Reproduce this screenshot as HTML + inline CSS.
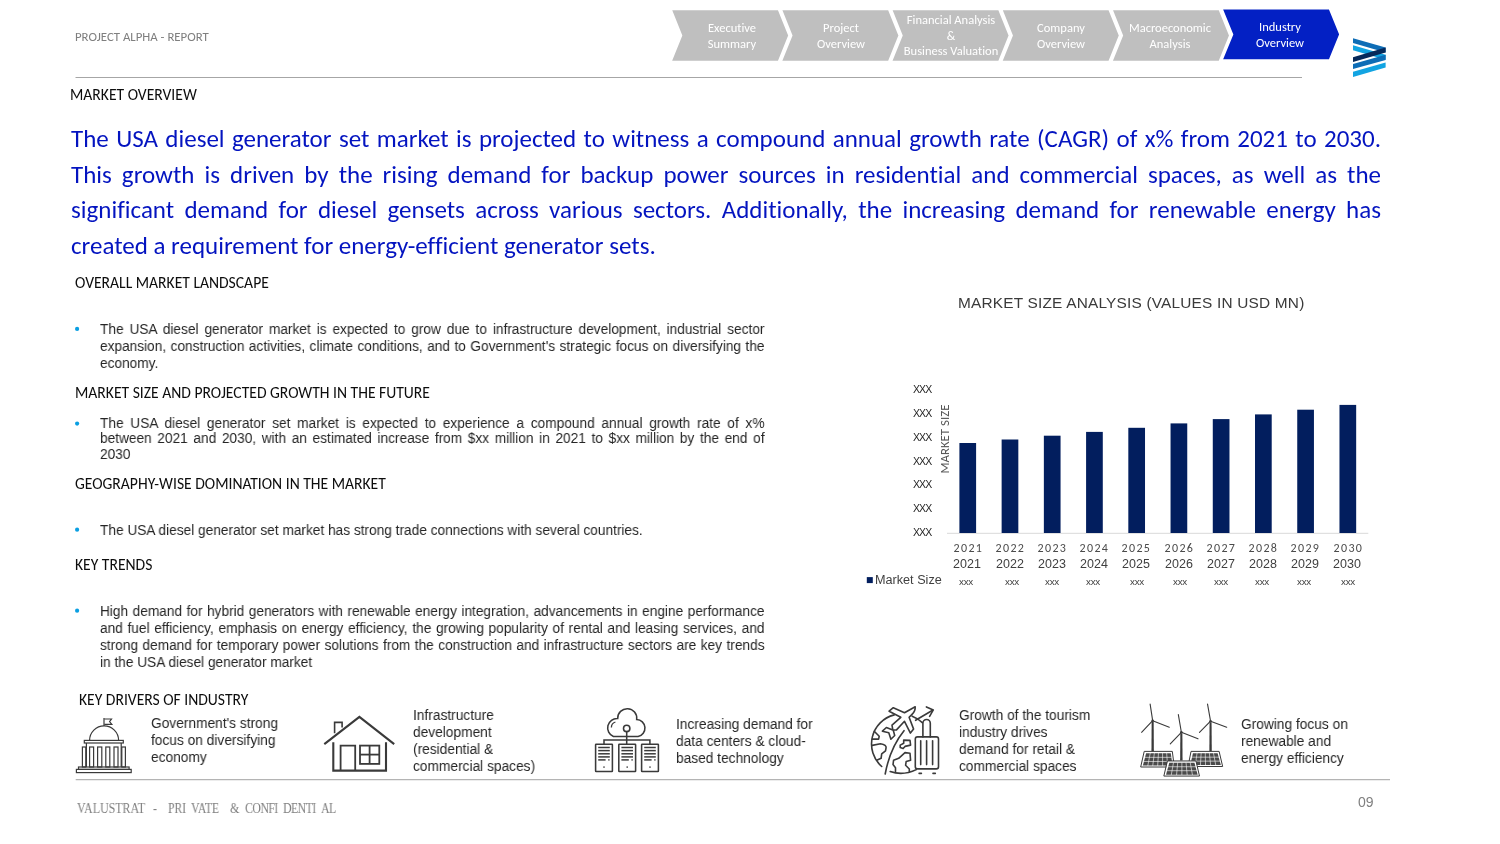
<!DOCTYPE html>
<html><head><meta charset="utf-8"><title>Market Overview</title>
<style>
html,body{margin:0;padding:0;background:#fff;}
body{width:1500px;height:844px;position:relative;overflow:hidden;}
.a{position:absolute;white-space:nowrap;font-variant-ligatures:none;font-kerning:normal;will-change:transform;}
.jj{text-align:justify;text-align-last:justify;white-space:nowrap;}
.jl{text-align:left;white-space:nowrap;}
.g{display:inline-block;width:5px;}
.in{display:inline-block;transform-origin:0 50%;}
.in.cc{transform-origin:50% 50%;}
svg.bg{position:absolute;left:0;top:0;}
</style></head><body>
<svg class="bg" width="1500" height="844" viewBox="0 0 1500 844">
<polygon points="671.0,9.4 778.5,9.4 789.0,35.5 778.5,61.5 671.0,61.5 681.5,35.5" fill="#BFBFBF" stroke="#ffffff" stroke-width="1.6" stroke-linejoin="miter"/>
<polygon points="781.2,9.4 888.7,9.4 899.2,35.5 888.7,61.5 781.2,61.5 791.7,35.5" fill="#BFBFBF" stroke="#ffffff" stroke-width="1.6" stroke-linejoin="miter"/>
<polygon points="891.4,9.4 998.9,9.4 1009.4,35.5 998.9,61.5 891.4,61.5 901.9,35.5" fill="#BFBFBF" stroke="#ffffff" stroke-width="1.6" stroke-linejoin="miter"/>
<polygon points="1001.6,9.4 1109.1,9.4 1119.6,35.5 1109.1,61.5 1001.6,61.5 1012.1,35.5" fill="#BFBFBF" stroke="#ffffff" stroke-width="1.6" stroke-linejoin="miter"/>
<polygon points="1111.8,9.4 1219.3,9.4 1229.8,35.5 1219.3,61.5 1111.8,61.5 1122.3,35.5" fill="#BFBFBF" stroke="#ffffff" stroke-width="1.6" stroke-linejoin="miter"/>
<polygon points="1222.0,8.7 1329.5,8.7 1340.0,34.4 1329.5,60.0 1222.0,60.0 1232.5,34.4" fill="#0320C4" stroke="#ffffff" stroke-width="1.6" stroke-linejoin="miter"/>
<polygon points="1353.03,45.31 1385.60,54.76 1385.60,59.64 1353.03,50.20" fill="#12A4E2"/>
<polygon points="1353.03,38.14 1385.60,47.59 1385.60,52.48 1353.03,43.03" fill="#0E6DB6"/>
<polygon points="1353.03,71.69 1385.60,62.57 1385.60,67.46 1353.03,76.91" fill="#12A4E2"/>
<polygon points="1353.03,63.88 1385.60,54.76 1385.60,59.97 1353.03,69.09" fill="#0E6DB6"/>
<polygon points="1353.03,57.36 1385.60,47.59 1385.60,52.48 1353.03,61.92" fill="#06295A"/>
<line x1="75.5" y1="77.5" x2="1302" y2="77.5" stroke="#a6a6a6" stroke-width="1"/>
<circle cx="77.1" cy="328.9" r="2.1" fill="#0A9FE2"/>
<circle cx="77.1" cy="423.6" r="2.1" fill="#0A9FE2"/>
<circle cx="77.1" cy="529.7" r="2.1" fill="#0A9FE2"/>
<circle cx="77.1" cy="610.7" r="2.1" fill="#0A9FE2"/>
<line x1="947" y1="533.3" x2="1368.3" y2="533.3" stroke="#d9d9d9" stroke-width="1"/>
<rect x="959.40" y="443.0" width="16.7" height="90.0" fill="#021E5E"/>
<rect x="1001.63" y="439.5" width="16.7" height="93.5" fill="#021E5E"/>
<rect x="1043.86" y="435.7" width="16.7" height="97.3" fill="#021E5E"/>
<rect x="1086.09" y="431.9" width="16.7" height="101.1" fill="#021E5E"/>
<rect x="1128.32" y="427.8" width="16.7" height="105.2" fill="#021E5E"/>
<rect x="1170.55" y="423.4" width="16.7" height="109.6" fill="#021E5E"/>
<rect x="1212.78" y="419.1" width="16.7" height="113.9" fill="#021E5E"/>
<rect x="1255.01" y="414.4" width="16.7" height="118.6" fill="#021E5E"/>
<rect x="1297.24" y="409.7" width="16.7" height="123.3" fill="#021E5E"/>
<rect x="1339.47" y="404.9" width="16.7" height="128.1" fill="#021E5E"/>
<rect x="866.8" y="577.1" width="6" height="6" fill="#021E5E"/>
<g fill="none" stroke="#3a3a3a" stroke-width="1.2">
<line x1="104" y1="718" x2="104" y2="726"/>
<path d="M104.3,719 L111.5,719 L109.6,721.6 L111.8,724.3 L104.3,724.3"/>
<path d="M89.6,740.3 A14.5,14.5 0 0 1 118.6,740.3"/>
<rect x="84.3" y="740.4" width="39" height="2.6"/>
<line x1="86.4" y1="743" x2="86.4" y2="767"/><line x1="121.2" y1="743" x2="121.2" y2="767"/>
<rect x="82.4" y="747" width="3.4" height="20"/>
<rect x="89.6" y="747" width="4.0" height="20"/>
<rect x="97.6" y="747" width="4.2" height="20"/>
<rect x="105.8" y="747" width="4.0" height="20"/>
<rect x="114.0" y="747" width="4.0" height="20"/>
<rect x="121.8" y="747" width="3.6" height="20"/>
<rect x="78.5" y="767" width="50.6" height="2.4"/>
<rect x="76.4" y="769.4" width="54.8" height="3.2"/>
</g>
<g fill="none" stroke="#3a3a3a" stroke-width="2.1" stroke-linejoin="miter">
<polyline points="324.3,744.1 359.4,716.8 394.2,744.1"/>
<polyline points="334.6,733.2 334.6,722.4 342.1,722.4 342.1,727.6" stroke-width="1.6"/>
<polyline points="333.3,742.3 333.3,770.6 386.0,770.6 386.0,742.3"/>
<polyline points="340.6,770.6 340.6,745.6 355.2,745.6 355.2,770.6" stroke-width="1.8"/>
<rect x="360.0" y="745.6" width="19.3" height="18.3" stroke-width="1.8"/>
<line x1="369.6" y1="745.6" x2="369.6" y2="763.9" stroke-width="1.8"/><line x1="360" y1="754.6" x2="379.3" y2="754.6" stroke-width="1.8"/>
</g>
<g fill="none" stroke="#3a3a3a" stroke-width="1.55">
<path d="M613.4,736.5 L638.1,736.5 A8.65,8.65 0 0 0 636.7,719.4 A9.54,9.54 0 1 0 617.7,718.5 A9.38,9.38 0 0 0 613.4,736.5 Z"/>
<path d="M611.4,727.6 A5.8,5.8 0 0 1 615.4,722.0" stroke-width="1.3"/>
<circle cx="626.7" cy="728.4" r="3.2"/>
<line x1="626.7" y1="731.6" x2="626.7" y2="744"/>
<polyline points="604.0,744 604.0,739.9 649.9,739.9 649.9,744"/>
<rect x="595.6" y="744.2" width="16.8" height="27.3" rx="0.5"/>
<line x1="598.2" y1="747.5" x2="609.8" y2="747.5" stroke-width="1.5"/>
<line x1="598.2" y1="750.6" x2="609.8" y2="750.6" stroke-width="1.5"/>
<line x1="598.2" y1="753.8" x2="609.8" y2="753.8" stroke-width="1.5"/>
<line x1="598.2" y1="756.9" x2="609.8" y2="756.9" stroke-width="1.5"/>
<line x1="598.2" y1="759.9" x2="605.6" y2="759.9" stroke-width="1.5"/>
<rect x="608.2" y="759.2" width="1.4" height="1.4" fill="#3a3a3a" stroke="none"/>
<rect x="603.3" y="766.4" width="1.4" height="1.4" fill="#3a3a3a" stroke="none"/>
<rect x="618.8" y="744.2" width="16.8" height="27.3" rx="0.5"/>
<line x1="621.4" y1="747.5" x2="633.0" y2="747.5" stroke-width="1.5"/>
<line x1="621.4" y1="750.6" x2="633.0" y2="750.6" stroke-width="1.5"/>
<line x1="621.4" y1="753.8" x2="633.0" y2="753.8" stroke-width="1.5"/>
<line x1="621.4" y1="756.9" x2="633.0" y2="756.9" stroke-width="1.5"/>
<line x1="621.4" y1="759.9" x2="628.8" y2="759.9" stroke-width="1.5"/>
<rect x="631.4" y="759.2" width="1.4" height="1.4" fill="#3a3a3a" stroke="none"/>
<rect x="626.5" y="766.4" width="1.4" height="1.4" fill="#3a3a3a" stroke="none"/>
<rect x="641.6" y="744.2" width="16.8" height="27.3" rx="0.5"/>
<line x1="644.2" y1="747.5" x2="655.8" y2="747.5" stroke-width="1.5"/>
<line x1="644.2" y1="750.6" x2="655.8" y2="750.6" stroke-width="1.5"/>
<line x1="644.2" y1="753.8" x2="655.8" y2="753.8" stroke-width="1.5"/>
<line x1="644.2" y1="756.9" x2="655.8" y2="756.9" stroke-width="1.5"/>
<line x1="644.2" y1="759.9" x2="651.6" y2="759.9" stroke-width="1.5"/>
<rect x="654.2" y="759.2" width="1.4" height="1.4" fill="#3a3a3a" stroke="none"/>
<rect x="649.3" y="766.4" width="1.4" height="1.4" fill="#3a3a3a" stroke="none"/>
</g>
<g fill="none" stroke="#3a3a3a" stroke-width="1.6" stroke-linejoin="round" stroke-linecap="round">
<path d="M894.2,714.9 A30,30 0 0 0 881.7,766.5"/>
<path d="M890.2,771.5 Q903,776 916.3,769.6"/>
<path d="M912.2,716.2 Q918,718.5 922.3,722.6"/>
<path d="M904.0,730.7 Q890,748 885.2,774.0"/>
<path d="M874.2,731.3 L879.2,736.3 L878.6,739.1 L872.3,739.1"/>
<path d="M872.3,745.4 L880.4,743.8 Q886.5,745 886.1,747.6 L885.5,750.8 L881.7,753.9 L881.1,758.3 L876.7,760.2"/>
<path d="M903.7,740.1 L910.0,740.4 L910.6,745.1 L905.0,746.4 L903.1,748.6 L900.2,747.6 L900.2,745.1 L903.7,743.2 Z"/>
<path d="M895.5,771.5 L895.5,767.7 L893.0,764.6 L893.6,760.2 L898.7,758.3 L905.0,752.6 L910.0,753.3 L910.6,760.2 L906.2,761.4 L905.6,765.2 L909.3,769.0 L909.3,771.5"/>
<path d="M915.2,706.7 L904.5,712.8 L893.3,707.7 L889.1,711.2 L900.8,717.3 L892.0,725.1 L892.8,729.9 L886.4,727.5 L882.4,731.2 L888.8,732.8 L890.9,739.2 L894.7,735.5 L893.2,730.0 L896.5,729.9 L904.5,721.3 L910.4,733.1 L913.6,729.1 L909.1,717.3 L912.0,714.4 Q915.5,711 915.2,706.7 Z"/>
<path d="M915.6,720.3 L932.6,710.2"/>
<path d="M926.4,706.9 L933.3,709.9 L929.6,716.3"/>
<rect x="915.3" y="736.9" width="23.2" height="32.0" rx="2.2"/>
<path d="M922.9,736.9 L922.9,723.2 A3.7,3.7 0 0 1 930.3,723.2 L930.3,736.9"/>
<line x1="920.7" y1="740.8" x2="920.7" y2="764.6"/>
<line x1="926.6" y1="740.8" x2="926.6" y2="764.6"/>
<line x1="932.6" y1="740.8" x2="932.6" y2="764.6"/>
<line x1="919.1" y1="773.4" x2="921.4" y2="773.4"/><line x1="933.0" y1="773.4" x2="935.3" y2="773.4"/>
</g>
<g stroke="#3a3a3a" fill="none" stroke-linecap="round">
<polygon points="1151.65,721.69 1153.67,721.69 1153.87,751.39 1151.45,751.39" fill="#3a3a3a" stroke="none"/>
<polyline points="1152.66,720.68 1150.14,704.06" stroke-width="1.1"/>
<polyline points="1152.66,720.68 1169.27,727.23" stroke-width="1.1"/>
<polyline points="1152.66,720.68 1141.58,732.26" stroke-width="1.1"/>
<circle cx="1152.66" cy="720.68" r="1.3" fill="#3a3a3a" stroke="none"/>
<polygon points="1180.35,733.27 1182.37,733.27 1182.57,760.46 1180.15,760.46" fill="#3a3a3a" stroke="none"/>
<polyline points="1181.36,732.26 1178.34,714.64" stroke-width="1.1"/>
<polyline points="1181.36,732.26 1197.98,738.81" stroke-width="1.1"/>
<polyline points="1181.36,732.26 1170.28,743.84" stroke-width="1.1"/>
<circle cx="1181.36" cy="732.26" r="1.3" fill="#3a3a3a" stroke="none"/>
<polygon points="1209.56,722.19 1211.57,722.19 1211.77,751.39 1209.36,751.39" fill="#3a3a3a" stroke="none"/>
<polyline points="1210.56,721.18 1207.54,704.06" stroke-width="1.1"/>
<polyline points="1210.56,721.18 1226.68,727.23" stroke-width="1.1"/>
<polyline points="1210.56,721.18 1199.49,732.46" stroke-width="1.1"/>
<circle cx="1210.56" cy="721.18" r="1.3" fill="#3a3a3a" stroke="none"/>
<polygon points="1144.60,751.39 1172.30,751.39 1174.31,767.00 1141.08,767.00" fill="#ffffff" stroke-width="1.0"/>
<polygon points="1146.11,753.21 1170.79,753.21 1172.50,765.59 1142.89,765.59" fill="#4a4a4a" stroke="none"/>
<line x1="1145.04" y1="757.34" x2="1171.36" y2="757.34" stroke="#ffffff" stroke-width="0.6"/>
<line x1="1143.96" y1="761.47" x2="1171.93" y2="761.47" stroke="#ffffff" stroke-width="0.6"/>
<line x1="1150.22" y1="753.21" x2="1147.82" y2="765.59" stroke="#ffffff" stroke-width="0.6"/>
<line x1="1154.34" y1="753.21" x2="1152.76" y2="765.59" stroke="#ffffff" stroke-width="0.6"/>
<line x1="1158.45" y1="753.21" x2="1157.69" y2="765.59" stroke="#ffffff" stroke-width="0.6"/>
<line x1="1162.56" y1="753.21" x2="1162.63" y2="765.59" stroke="#ffffff" stroke-width="0.6"/>
<line x1="1166.67" y1="753.21" x2="1167.56" y2="765.59" stroke="#ffffff" stroke-width="0.6"/>
<polygon points="1191.43,751.39 1219.12,751.39 1222.65,766.50 1188.41,766.50" fill="#ffffff" stroke-width="1.0"/>
<polygon points="1192.94,753.21 1217.61,753.21 1220.84,765.09 1190.22,765.09" fill="#4a4a4a" stroke="none"/>
<line x1="1192.03" y1="757.17" x2="1218.69" y2="757.17" stroke="#ffffff" stroke-width="0.6"/>
<line x1="1191.13" y1="761.13" x2="1219.76" y2="761.13" stroke="#ffffff" stroke-width="0.6"/>
<line x1="1197.05" y1="753.21" x2="1195.32" y2="765.09" stroke="#ffffff" stroke-width="0.6"/>
<line x1="1201.16" y1="753.21" x2="1200.43" y2="765.09" stroke="#ffffff" stroke-width="0.6"/>
<line x1="1205.28" y1="753.21" x2="1205.53" y2="765.09" stroke="#ffffff" stroke-width="0.6"/>
<line x1="1209.39" y1="753.21" x2="1210.63" y2="765.09" stroke="#ffffff" stroke-width="0.6"/>
<line x1="1213.50" y1="753.21" x2="1215.73" y2="765.09" stroke="#ffffff" stroke-width="0.6"/>
<polygon points="1167.76,760.96 1195.96,760.96 1199.49,776.07 1164.24,776.07" fill="#ffffff" stroke-width="1.0"/>
<polygon points="1169.27,762.77 1194.45,762.77 1197.67,774.66 1166.05,774.66" fill="#4a4a4a" stroke="none"/>
<line x1="1168.20" y1="766.74" x2="1195.53" y2="766.74" stroke="#ffffff" stroke-width="0.6"/>
<line x1="1167.13" y1="770.70" x2="1196.60" y2="770.70" stroke="#ffffff" stroke-width="0.6"/>
<line x1="1173.47" y1="762.77" x2="1171.32" y2="774.66" stroke="#ffffff" stroke-width="0.6"/>
<line x1="1177.67" y1="762.77" x2="1176.59" y2="774.66" stroke="#ffffff" stroke-width="0.6"/>
<line x1="1181.86" y1="762.77" x2="1181.86" y2="774.66" stroke="#ffffff" stroke-width="0.6"/>
<line x1="1186.06" y1="762.77" x2="1187.13" y2="774.66" stroke="#ffffff" stroke-width="0.6"/>
<line x1="1190.26" y1="762.77" x2="1192.40" y2="774.66" stroke="#ffffff" stroke-width="0.6"/>
</g>
<line x1="75.7" y1="779.6" x2="1390" y2="779.6" stroke="#b4b4b4" stroke-width="1.4"/>
</svg>
<div class="a  cal" style="left:75.00px;top:28.95px;font-family:Carlito, Calibri, 'Liberation Sans', sans-serif;font-size:12.8px;line-height:15.36px;color:#7f7f7f;"><span class="in">PROJECT ALPHA - REPORT</span></div>
<div class="a cal" style="left:631.50px;top:20.03px;width:200px;text-align:center;font-family:Carlito, Calibri, 'Liberation Sans', sans-serif;font-size:12.5px;line-height:15.0px;color:#ffffff;"><span class="in cc">Executive</span></div>
<div class="a cal" style="left:631.50px;top:35.63px;width:200px;text-align:center;font-family:Carlito, Calibri, 'Liberation Sans', sans-serif;font-size:12.5px;line-height:15.0px;color:#ffffff;"><span class="in cc">Summary</span></div>
<div class="a cal" style="left:740.70px;top:20.03px;width:200px;text-align:center;font-family:Carlito, Calibri, 'Liberation Sans', sans-serif;font-size:12.5px;line-height:15.0px;color:#ffffff;"><span class="in cc">Project</span></div>
<div class="a cal" style="left:740.70px;top:35.63px;width:200px;text-align:center;font-family:Carlito, Calibri, 'Liberation Sans', sans-serif;font-size:12.5px;line-height:15.0px;color:#ffffff;"><span class="in cc">Overview</span></div>
<div class="a cal" style="left:851.10px;top:12.43px;width:200px;text-align:center;font-family:Carlito, Calibri, 'Liberation Sans', sans-serif;font-size:12.5px;line-height:15.0px;color:#ffffff;"><span class="in cc">Financial Analysis</span></div>
<div class="a cal" style="left:851.10px;top:27.63px;width:200px;text-align:center;font-family:Carlito, Calibri, 'Liberation Sans', sans-serif;font-size:12.5px;line-height:15.0px;color:#ffffff;"><span class="in cc">&amp;</span></div>
<div class="a cal" style="left:851.10px;top:42.83px;width:200px;text-align:center;font-family:Carlito, Calibri, 'Liberation Sans', sans-serif;font-size:12.5px;line-height:15.0px;color:#ffffff;"><span class="in cc">Business Valuation</span></div>
<div class="a cal" style="left:960.80px;top:20.03px;width:200px;text-align:center;font-family:Carlito, Calibri, 'Liberation Sans', sans-serif;font-size:12.5px;line-height:15.0px;color:#ffffff;"><span class="in cc">Company</span></div>
<div class="a cal" style="left:960.80px;top:35.63px;width:200px;text-align:center;font-family:Carlito, Calibri, 'Liberation Sans', sans-serif;font-size:12.5px;line-height:15.0px;color:#ffffff;"><span class="in cc">Overview</span></div>
<div class="a cal" style="left:1070.30px;top:20.03px;width:200px;text-align:center;font-family:Carlito, Calibri, 'Liberation Sans', sans-serif;font-size:12.5px;line-height:15.0px;color:#ffffff;"><span class="in cc">Macroeconomic</span></div>
<div class="a cal" style="left:1070.30px;top:35.63px;width:200px;text-align:center;font-family:Carlito, Calibri, 'Liberation Sans', sans-serif;font-size:12.5px;line-height:15.0px;color:#ffffff;"><span class="in cc">Analysis</span></div>
<div class="a cal" style="left:1180.30px;top:19.23px;width:200px;text-align:center;font-family:Carlito, Calibri, 'Liberation Sans', sans-serif;font-size:12.5px;line-height:15.0px;color:#ffffff;"><span class="in cc">Industry</span></div>
<div class="a cal" style="left:1180.30px;top:34.73px;width:200px;text-align:center;font-family:Carlito, Calibri, 'Liberation Sans', sans-serif;font-size:12.5px;line-height:15.0px;color:#ffffff;"><span class="in cc">Overview</span></div>
<div class="a  cal" style="left:70.30px;top:86.31px;font-family:Carlito, Calibri, 'Liberation Sans', sans-serif;font-size:15.6px;line-height:18.72px;color:#0d0d0d;"><span class="in">MARKET OVERVIEW</span></div>
<div class="a cal" style="left:70.50px;top:120.91px;width:1310.0px;font-family:Carlito, Calibri, 'Liberation Sans', sans-serif;font-size:25px;line-height:35.7px;color:#0414C0;transform-origin:0 0;transform:scaleX(1.0);"><div class="jj ln">The USA diesel generator set market is projected to witness a compound annual growth rate (CAGR) of x% from 2021 to 2030.</div><div class="jj ln">This growth is driven by the rising demand for backup power sources in residential and commercial spaces, as well as the</div><div class="jj ln">significant demand for diesel gensets across various sectors. Additionally, the increasing demand for renewable energy has</div><div class="jl ln">created a requirement for energy-efficient generator sets.</div></div>
<div class="a  cal" style="left:75.00px;top:274.11px;font-family:Carlito, Calibri, 'Liberation Sans', sans-serif;font-size:15.6px;line-height:18.72px;color:#0d0d0d;"><span class="in">OVERALL MARKET LANDSCAPE</span></div>
<div class="a  cal" style="left:75.20px;top:384.21px;font-family:Carlito, Calibri, 'Liberation Sans', sans-serif;font-size:15.6px;line-height:18.72px;color:#0d0d0d;"><span class="in">MARKET SIZE AND PROJECTED GROWTH IN THE FUTURE</span></div>
<div class="a  cal" style="left:75.20px;top:475.21px;font-family:Carlito, Calibri, 'Liberation Sans', sans-serif;font-size:15.6px;line-height:18.72px;color:#0d0d0d;"><span class="in">GEOGRAPHY-WISE DOMINATION IN THE MARKET</span></div>
<div class="a  cal" style="left:75.20px;top:555.71px;font-family:Carlito, Calibri, 'Liberation Sans', sans-serif;font-size:15.6px;line-height:18.72px;color:#0d0d0d;"><span class="in">KEY TRENDS</span></div>
<div class="a  cal" style="left:79.10px;top:690.71px;font-family:Carlito, Calibri, 'Liberation Sans', sans-serif;font-size:15.6px;line-height:18.72px;color:#0d0d0d;"><span class="in">KEY DRIVERS OF INDUSTRY</span></div>
<div class="a" style="left:99.60px;top:321.03px;width:713.7486573576799px;font-family:'Liberation Sans', Arial, sans-serif;font-size:14.7px;line-height:16.95px;color:#262626;transform-origin:0 0;transform:scaleX(0.931);"><div class="jj">The USA diesel generator market is expected to grow due to infrastructure development, industrial sector</div><div class="jj">expansion, construction activities, climate conditions, and to Government&#39;s strategic focus on diversifying the</div><div class="jl">economy.</div></div>
<div class="a" style="left:99.60px;top:416.13px;width:713.7486573576799px;font-family:'Liberation Sans', Arial, sans-serif;font-size:14.7px;line-height:15.35px;color:#262626;transform-origin:0 0;transform:scaleX(0.931);"><div class="jj">The USA diesel generator set market is expected to experience a compound annual growth rate of x%</div><div class="jj">between 2021 and 2030, with an estimated increase from $xx million in 2021 to $xx million by the end of</div><div class="jl">2030</div></div>
<div class="a" style="left:99.60px;top:521.80px;width:713.7486573576799px;font-family:'Liberation Sans', Arial, sans-serif;font-size:14.7px;line-height:16.8px;color:#262626;transform-origin:0 0;transform:scaleX(0.931);"><div class="jl">The USA diesel generator set market has strong trade connections with several countries.</div></div>
<div class="a" style="left:99.60px;top:602.72px;width:713.7486573576799px;font-family:'Liberation Sans', Arial, sans-serif;font-size:14.7px;line-height:16.97px;color:#262626;transform-origin:0 0;transform:scaleX(0.931);"><div class="jj">High demand for hybrid generators with renewable energy integration, advancements in engine performance</div><div class="jj">and fuel efficiency, emphasis on energy efficiency, the growing popularity of rental and leasing services, and</div><div class="jj">strong demand for temporary power solutions from the construction and infrastructure sectors are key trends</div><div class="jl">in the USA diesel generator market</div></div>
<div class="a " style="left:958.00px;top:294.12px;font-family:'Liberation Sans', Arial, sans-serif;font-size:15.4px;line-height:18.48px;color:#3a3a3a;letter-spacing:0.2px;">MARKET SIZE ANALYSIS (VALUES IN USD MN)</div>
<div class="a " style="left:912.80px;top:382.81px;font-family:'Liberation Sans', Arial, sans-serif;font-size:10.5px;line-height:12.6px;color:#262626;letter-spacing:-0.9px;">XXX</div>
<div class="a " style="left:912.80px;top:406.71px;font-family:'Liberation Sans', Arial, sans-serif;font-size:10.5px;line-height:12.6px;color:#262626;letter-spacing:-0.9px;">XXX</div>
<div class="a " style="left:912.80px;top:430.61px;font-family:'Liberation Sans', Arial, sans-serif;font-size:10.5px;line-height:12.6px;color:#262626;letter-spacing:-0.9px;">XXX</div>
<div class="a " style="left:912.80px;top:454.51px;font-family:'Liberation Sans', Arial, sans-serif;font-size:10.5px;line-height:12.6px;color:#262626;letter-spacing:-0.9px;">XXX</div>
<div class="a " style="left:912.80px;top:478.41px;font-family:'Liberation Sans', Arial, sans-serif;font-size:10.5px;line-height:12.6px;color:#262626;letter-spacing:-0.9px;">XXX</div>
<div class="a " style="left:912.80px;top:502.31px;font-family:'Liberation Sans', Arial, sans-serif;font-size:10.5px;line-height:12.6px;color:#262626;letter-spacing:-0.9px;">XXX</div>
<div class="a " style="left:912.80px;top:526.21px;font-family:'Liberation Sans', Arial, sans-serif;font-size:10.5px;line-height:12.6px;color:#262626;letter-spacing:-0.9px;">XXX</div>
<div class="a cal" style="left:894.9px;top:431.3px;width:100px;height:16px;text-align:center;font-family:Carlito, Calibri, 'Liberation Sans', sans-serif;font-size:12.85px;line-height:16px;color:#595959;transform:rotate(-90deg);"><span class="in cc">MARKET SIZE</span></div>
<div class="a cal" style="left:866.55px;top:540.60px;width:200px;text-align:center;font-family:Carlito, Calibri, 'Liberation Sans', sans-serif;font-size:12px;line-height:14.399999999999999px;color:#4a4a4a;letter-spacing:1.4px;text-indent:1.4px;"><span class="in cc">2021</span></div>
<div class="a" style="left:867.35px;top:556.67px;width:200px;text-align:center;font-family:'Liberation Sans', Arial, sans-serif;font-size:12.5px;line-height:15.0px;color:#404040;">2021</div>
<div class="a" style="left:865.60px;top:575.72px;width:200px;text-align:center;font-family:'Liberation Sans', Arial, sans-serif;font-size:9.8px;line-height:11.76px;color:#404040;letter-spacing:-0.3px;">xxx</div>
<div class="a cal" style="left:908.78px;top:540.60px;width:200px;text-align:center;font-family:Carlito, Calibri, 'Liberation Sans', sans-serif;font-size:12px;line-height:14.399999999999999px;color:#4a4a4a;letter-spacing:1.4px;text-indent:1.4px;"><span class="in cc">2022</span></div>
<div class="a" style="left:909.58px;top:556.67px;width:200px;text-align:center;font-family:'Liberation Sans', Arial, sans-serif;font-size:12.5px;line-height:15.0px;color:#404040;">2022</div>
<div class="a" style="left:912.00px;top:575.72px;width:200px;text-align:center;font-family:'Liberation Sans', Arial, sans-serif;font-size:9.8px;line-height:11.76px;color:#404040;letter-spacing:-0.3px;">xxx</div>
<div class="a cal" style="left:951.01px;top:540.60px;width:200px;text-align:center;font-family:Carlito, Calibri, 'Liberation Sans', sans-serif;font-size:12px;line-height:14.399999999999999px;color:#4a4a4a;letter-spacing:1.4px;text-indent:1.4px;"><span class="in cc">2023</span></div>
<div class="a" style="left:951.81px;top:556.67px;width:200px;text-align:center;font-family:'Liberation Sans', Arial, sans-serif;font-size:12.5px;line-height:15.0px;color:#404040;">2023</div>
<div class="a" style="left:952.40px;top:575.72px;width:200px;text-align:center;font-family:'Liberation Sans', Arial, sans-serif;font-size:9.8px;line-height:11.76px;color:#404040;letter-spacing:-0.3px;">xxx</div>
<div class="a cal" style="left:993.24px;top:540.60px;width:200px;text-align:center;font-family:Carlito, Calibri, 'Liberation Sans', sans-serif;font-size:12px;line-height:14.399999999999999px;color:#4a4a4a;letter-spacing:1.4px;text-indent:1.4px;"><span class="in cc">2024</span></div>
<div class="a" style="left:994.04px;top:556.67px;width:200px;text-align:center;font-family:'Liberation Sans', Arial, sans-serif;font-size:12.5px;line-height:15.0px;color:#404040;">2024</div>
<div class="a" style="left:993.00px;top:575.72px;width:200px;text-align:center;font-family:'Liberation Sans', Arial, sans-serif;font-size:9.8px;line-height:11.76px;color:#404040;letter-spacing:-0.3px;">xxx</div>
<div class="a cal" style="left:1035.47px;top:540.60px;width:200px;text-align:center;font-family:Carlito, Calibri, 'Liberation Sans', sans-serif;font-size:12px;line-height:14.399999999999999px;color:#4a4a4a;letter-spacing:1.4px;text-indent:1.4px;"><span class="in cc">2025</span></div>
<div class="a" style="left:1036.27px;top:556.67px;width:200px;text-align:center;font-family:'Liberation Sans', Arial, sans-serif;font-size:12.5px;line-height:15.0px;color:#404040;">2025</div>
<div class="a" style="left:1037.30px;top:575.72px;width:200px;text-align:center;font-family:'Liberation Sans', Arial, sans-serif;font-size:9.8px;line-height:11.76px;color:#404040;letter-spacing:-0.3px;">xxx</div>
<div class="a cal" style="left:1077.70px;top:540.60px;width:200px;text-align:center;font-family:Carlito, Calibri, 'Liberation Sans', sans-serif;font-size:12px;line-height:14.399999999999999px;color:#4a4a4a;letter-spacing:1.4px;text-indent:1.4px;"><span class="in cc">2026</span></div>
<div class="a" style="left:1078.50px;top:556.67px;width:200px;text-align:center;font-family:'Liberation Sans', Arial, sans-serif;font-size:12.5px;line-height:15.0px;color:#404040;">2026</div>
<div class="a" style="left:1080.10px;top:575.72px;width:200px;text-align:center;font-family:'Liberation Sans', Arial, sans-serif;font-size:9.8px;line-height:11.76px;color:#404040;letter-spacing:-0.3px;">xxx</div>
<div class="a cal" style="left:1119.93px;top:540.60px;width:200px;text-align:center;font-family:Carlito, Calibri, 'Liberation Sans', sans-serif;font-size:12px;line-height:14.399999999999999px;color:#4a4a4a;letter-spacing:1.4px;text-indent:1.4px;"><span class="in cc">2027</span></div>
<div class="a" style="left:1120.73px;top:556.67px;width:200px;text-align:center;font-family:'Liberation Sans', Arial, sans-serif;font-size:12.5px;line-height:15.0px;color:#404040;">2027</div>
<div class="a" style="left:1121.20px;top:575.72px;width:200px;text-align:center;font-family:'Liberation Sans', Arial, sans-serif;font-size:9.8px;line-height:11.76px;color:#404040;letter-spacing:-0.3px;">xxx</div>
<div class="a cal" style="left:1162.16px;top:540.60px;width:200px;text-align:center;font-family:Carlito, Calibri, 'Liberation Sans', sans-serif;font-size:12px;line-height:14.399999999999999px;color:#4a4a4a;letter-spacing:1.4px;text-indent:1.4px;"><span class="in cc">2028</span></div>
<div class="a" style="left:1162.96px;top:556.67px;width:200px;text-align:center;font-family:'Liberation Sans', Arial, sans-serif;font-size:12.5px;line-height:15.0px;color:#404040;">2028</div>
<div class="a" style="left:1161.80px;top:575.72px;width:200px;text-align:center;font-family:'Liberation Sans', Arial, sans-serif;font-size:9.8px;line-height:11.76px;color:#404040;letter-spacing:-0.3px;">xxx</div>
<div class="a cal" style="left:1204.39px;top:540.60px;width:200px;text-align:center;font-family:Carlito, Calibri, 'Liberation Sans', sans-serif;font-size:12px;line-height:14.399999999999999px;color:#4a4a4a;letter-spacing:1.4px;text-indent:1.4px;"><span class="in cc">2029</span></div>
<div class="a" style="left:1205.19px;top:556.67px;width:200px;text-align:center;font-family:'Liberation Sans', Arial, sans-serif;font-size:12.5px;line-height:15.0px;color:#404040;">2029</div>
<div class="a" style="left:1204.10px;top:575.72px;width:200px;text-align:center;font-family:'Liberation Sans', Arial, sans-serif;font-size:9.8px;line-height:11.76px;color:#404040;letter-spacing:-0.3px;">xxx</div>
<div class="a cal" style="left:1246.62px;top:540.60px;width:200px;text-align:center;font-family:Carlito, Calibri, 'Liberation Sans', sans-serif;font-size:12px;line-height:14.399999999999999px;color:#4a4a4a;letter-spacing:1.4px;text-indent:1.4px;"><span class="in cc">2030</span></div>
<div class="a" style="left:1247.42px;top:556.67px;width:200px;text-align:center;font-family:'Liberation Sans', Arial, sans-serif;font-size:12.5px;line-height:15.0px;color:#404040;">2030</div>
<div class="a" style="left:1248.10px;top:575.72px;width:200px;text-align:center;font-family:'Liberation Sans', Arial, sans-serif;font-size:9.8px;line-height:11.76px;color:#404040;letter-spacing:-0.3px;">xxx</div>
<div class="a " style="left:875.00px;top:573.02px;font-family:'Liberation Sans', Arial, sans-serif;font-size:12.65px;line-height:15.18px;color:#404040;">Market Size</div>
<div class="a " style="left:150.50px;top:714.78px;font-family:'Liberation Sans', Arial, sans-serif;font-size:14.7px;line-height:17.639999999999997px;color:#262626;transform-origin:0 0;transform:scaleX(0.935);">Government&#39;s strong</div>
<div class="a " style="left:150.50px;top:731.78px;font-family:'Liberation Sans', Arial, sans-serif;font-size:14.7px;line-height:17.639999999999997px;color:#262626;transform-origin:0 0;transform:scaleX(0.935);">focus on diversifying</div>
<div class="a " style="left:150.50px;top:748.78px;font-family:'Liberation Sans', Arial, sans-serif;font-size:14.7px;line-height:17.639999999999997px;color:#262626;transform-origin:0 0;transform:scaleX(0.935);">economy</div>
<div class="a " style="left:412.50px;top:707.38px;font-family:'Liberation Sans', Arial, sans-serif;font-size:14.7px;line-height:17.639999999999997px;color:#262626;transform-origin:0 0;transform:scaleX(0.935);">Infrastructure</div>
<div class="a " style="left:412.50px;top:724.38px;font-family:'Liberation Sans', Arial, sans-serif;font-size:14.7px;line-height:17.639999999999997px;color:#262626;transform-origin:0 0;transform:scaleX(0.935);">development</div>
<div class="a " style="left:412.50px;top:741.38px;font-family:'Liberation Sans', Arial, sans-serif;font-size:14.7px;line-height:17.639999999999997px;color:#262626;transform-origin:0 0;transform:scaleX(0.935);">(residential &amp;</div>
<div class="a " style="left:412.50px;top:758.38px;font-family:'Liberation Sans', Arial, sans-serif;font-size:14.7px;line-height:17.639999999999997px;color:#262626;transform-origin:0 0;transform:scaleX(0.935);">commercial spaces)</div>
<div class="a " style="left:675.70px;top:715.98px;font-family:'Liberation Sans', Arial, sans-serif;font-size:14.7px;line-height:17.639999999999997px;color:#262626;transform-origin:0 0;transform:scaleX(0.935);">Increasing demand for</div>
<div class="a " style="left:675.70px;top:732.88px;font-family:'Liberation Sans', Arial, sans-serif;font-size:14.7px;line-height:17.639999999999997px;color:#262626;transform-origin:0 0;transform:scaleX(0.935);">data centers &amp; cloud-</div>
<div class="a " style="left:675.70px;top:749.78px;font-family:'Liberation Sans', Arial, sans-serif;font-size:14.7px;line-height:17.639999999999997px;color:#262626;transform-origin:0 0;transform:scaleX(0.935);">based technology</div>
<div class="a " style="left:958.80px;top:706.88px;font-family:'Liberation Sans', Arial, sans-serif;font-size:14.7px;line-height:17.639999999999997px;color:#262626;transform-origin:0 0;transform:scaleX(0.935);">Growth of the tourism</div>
<div class="a " style="left:958.80px;top:723.98px;font-family:'Liberation Sans', Arial, sans-serif;font-size:14.7px;line-height:17.639999999999997px;color:#262626;transform-origin:0 0;transform:scaleX(0.935);">industry drives</div>
<div class="a " style="left:958.80px;top:741.08px;font-family:'Liberation Sans', Arial, sans-serif;font-size:14.7px;line-height:17.639999999999997px;color:#262626;transform-origin:0 0;transform:scaleX(0.935);">demand for retail &amp;</div>
<div class="a " style="left:958.80px;top:758.18px;font-family:'Liberation Sans', Arial, sans-serif;font-size:14.7px;line-height:17.639999999999997px;color:#262626;transform-origin:0 0;transform:scaleX(0.935);">commercial spaces</div>
<div class="a " style="left:1241.20px;top:715.88px;font-family:'Liberation Sans', Arial, sans-serif;font-size:14.7px;line-height:17.639999999999997px;color:#262626;transform-origin:0 0;transform:scaleX(0.935);">Growing focus on</div>
<div class="a " style="left:1241.20px;top:732.88px;font-family:'Liberation Sans', Arial, sans-serif;font-size:14.7px;line-height:17.639999999999997px;color:#262626;transform-origin:0 0;transform:scaleX(0.935);">renewable and</div>
<div class="a " style="left:1241.20px;top:749.88px;font-family:'Liberation Sans', Arial, sans-serif;font-size:14.7px;line-height:17.639999999999997px;color:#262626;transform-origin:0 0;transform:scaleX(0.935);">energy efficiency</div>
<div class="a" style="left:77.3px;top:801.31px;font-family:'Liberation Serif', 'Times New Roman', serif;font-size:13.6px;line-height:16px;color:#808080;transform-origin:0 0;transform:scaleX(0.878);letter-spacing:0px;">VALUSTRAT</div>
<div class="a" style="left:153.4px;top:801.31px;font-family:'Liberation Serif', 'Times New Roman', serif;font-size:13.6px;line-height:16px;color:#808080;transform-origin:0 0;transform:scaleX(0.878);letter-spacing:0px;">-</div>
<div class="a" style="left:167.8px;top:801.31px;font-family:'Liberation Serif', 'Times New Roman', serif;font-size:13.6px;line-height:16px;color:#808080;transform-origin:0 0;transform:scaleX(0.878);letter-spacing:-0.3px;">PRI</div>
<div class="a" style="left:191.1px;top:801.31px;font-family:'Liberation Serif', 'Times New Roman', serif;font-size:13.6px;line-height:16px;color:#808080;transform-origin:0 0;transform:scaleX(0.878);letter-spacing:-0.3px;">VATE</div>
<div class="a" style="left:229.6px;top:801.31px;font-family:'Liberation Serif', 'Times New Roman', serif;font-size:13.6px;line-height:16px;color:#808080;transform-origin:0 0;transform:scaleX(0.878);letter-spacing:0px;">&amp;</div>
<div class="a" style="left:244.5px;top:801.31px;font-family:'Liberation Serif', 'Times New Roman', serif;font-size:13.6px;line-height:16px;color:#808080;transform-origin:0 0;transform:scaleX(0.878);letter-spacing:-0.75px;">CONFI</div>
<div class="a" style="left:282.9px;top:801.31px;font-family:'Liberation Serif', 'Times New Roman', serif;font-size:13.6px;line-height:16px;color:#808080;transform-origin:0 0;transform:scaleX(0.878);letter-spacing:-0.75px;">DENTI</div>
<div class="a" style="left:320.5px;top:801.31px;font-family:'Liberation Serif', 'Times New Roman', serif;font-size:13.6px;line-height:16px;color:#808080;transform-origin:0 0;transform:scaleX(0.878);letter-spacing:-0.75px;">AL</div>
<div class="a " style="left:1358.00px;top:794.45px;font-family:'Liberation Sans', Arial, sans-serif;font-size:14px;line-height:16.8px;color:#7f7f7f;">09</div>
<script>
(function(){
try{
var c=document.createElement('canvas').getContext('2d');
var t='MARKET Overview 2021 wmi';
c.font='40px monospace';var a=c.measureText(t).width;
c.font='40px Carlito, Calibri, monospace';var b=c.measureText(t).width;
if(Math.abs(a-b)>0.5)return;
var E=[133.75, 48.06, 48.36, 35.89, 48.11, 88.42, 15, 94.42, 47.8, 48.11, 82.02, 40.86, 41.88, 48.11, 126.78, 193.8, 354.88, 310.83, 77.36, 169.36, 68.92, 31.33, 31.33, 31.33, 31.33, 31.33, 31.33, 31.33, 31.33, 31.33, 31.33],L=[1273.78, 1222.39, 1239.91, 584.72];
var sp=document.querySelectorAll('.cal .in');
for(var i=0;i<sp.length&&i<E.length;i++){var q=sp[i].getBoundingClientRect();var w=Math.max(q.width,q.height);if(w>0){sp[i].style.transform='scaleX('+(E[i]/w)+')';}}
var ln=document.querySelectorAll('.cal .ln');
for(var j=0;j<ln.length&&j<L.length;j++){var d=ln[j];var bw=d.parentNode.offsetWidth;d.style.textAlignLast='left';d.style.textAlign='left';
var r=document.createRange();r.selectNodeContents(d);var w2=r.getBoundingClientRect().width;d.style.textAlignLast='';d.style.textAlign='';
if(w2>0){var k=L[j]/w2;d.style.width=(bw/k)+'px';d.style.transformOrigin='0 0';d.style.transform='scaleX('+k+')';}}
}catch(e){}
})();
</script>
</body></html>
